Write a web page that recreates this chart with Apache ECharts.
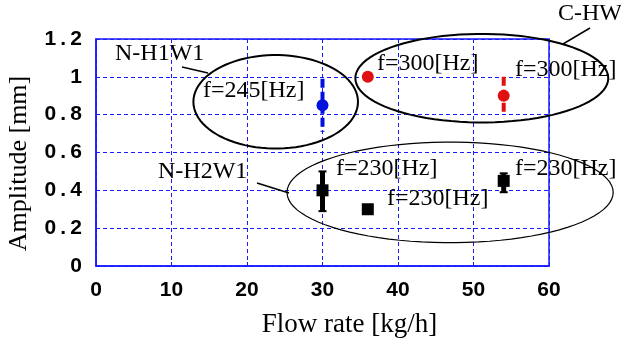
<!DOCTYPE html>
<html>
<head>
<meta charset="utf-8">
<script src="https://cdn.jsdelivr.net/npm/echarts@6/dist/echarts.min.js"></script>
<style>
  html, body { margin: 0; padding: 0; background: #fff; }
  #chart { width: 621px; height: 342px; }
</style>
</head>
<body>
<div id="chart"></div>
<script>
// N-H1W1 (blue)
const h1w1Points = [[30, 0.85]];
const h1w1Err = [[30, 0.71, 0.99]];
// C-HW (red)
const chwPoints = [[36, 1.0], [54, 0.90]];
const chwErr = [[54, 0.80, 1.0]];
// N-H2W1 (black)
const h2w1Points = [[30, 0.40], [36, 0.30], [54, 0.45]];
const h2w1Err = [[30, 0.29, 0.50], [54, 0.39, 0.49]];

// group ellipses: [centerX, centerY, radiusX, radiusY] in data units
const groupEllipses = [
  [23.8, 0.868, 10.9, 0.247],
  [51.1, 0.993, 16.75, 0.234],
  [46.9, 0.389, 21.6, 0.266]
];

const serif = 'Liberation Serif, Times New Roman, serif';
const sans = 'Liberation Sans, Arial, sans-serif';
const gridBlue = '#1a1aff';

const chart = echarts.init(document.getElementById('chart'));

// error bar renderer
function errBar(color, dashed, caps) {
  return function (params, api) {
    const top = api.coord([api.value(0), api.value(2)]);
    const bot = api.coord([api.value(0), api.value(1)]);
    const kids = [{
      type: 'line',
      shape: { x1: top[0], y1: top[1], x2: bot[0], y2: bot[1] },
      style: { stroke: color, lineWidth: dashed ? 4 : 5, lineDash: dashed ? [9, 4] : null }
    }];
    if (caps) {
      [top, bot].forEach((p) => {
        kids.push({
          type: 'line',
          shape: { x1: p[0] - 4, y1: p[1], x2: p[0] + 4, y2: p[1] },
          style: { stroke: color, lineWidth: 2 }
        });
      });
    }
    return { type: 'group', children: kids };
  };
}

const ellipseWidths = [2, 2, 1.2];

const option = {
  backgroundColor: '#fff',
  animation: false,
  grid: {
    left: 96, right: 72, top: 39, bottom: 76,
    outerBoundsMode: 'none', containLabel: false,
    show: true, borderColor: gridBlue, borderWidth: 1.5
  },
  xAxis: {
    type: 'value', min: 0, max: 60, interval: 10,
    name: 'Flow rate [kg/h]', nameLocation: 'middle', nameGap: 45,
    nameTextStyle: { fontFamily: serif, fontSize: 27, color: '#000', padding: [0, 0, 0, 54] },
    axisLine: { show: true, lineStyle: { color: gridBlue, width: 1.5 } },
    axisTick: { show: true, inside: true, length: 4, lineStyle: { color: gridBlue } },
    axisLabel: { fontFamily: sans, fontWeight: 'bold', fontSize: 21, color: '#000', margin: 14 },
    splitLine: { show: true, lineStyle: { color: gridBlue, type: [4, 3], width: 1 } }
  },
  yAxis: {
    type: 'value', min: 0, max: 1.2, interval: 0.2,
    name: 'Amplitude [mm]', nameLocation: 'middle', nameGap: 64,
    nameTextStyle: { fontFamily: serif, fontSize: 26, color: '#000', padding: [0, 22, 0, 0] },
    axisLine: { show: true, lineStyle: { color: gridBlue, width: 1.5 } },
    axisTick: { show: true, inside: true, length: 4, lineStyle: { color: gridBlue } },
    axisLabel: {
      fontFamily: sans, fontWeight: 'bold', fontSize: 21, color: '#000', margin: 14,
      formatter: (v) => String(Math.round(v * 10) / 10).replace('.', '\u2009.\u2009')
    },
    splitLine: { show: true, lineStyle: { color: gridBlue, type: [4, 3], width: 1 } }
  },
  series: [
    {
      type: 'custom', name: 'ellipses', data: groupEllipses, clip: false, z: 3,
      renderItem: function (params, api) {
        const c = api.coord([api.value(0), api.value(1)]);
        const s = api.size([api.value(2), api.value(3)]);
        const pts = [];
        for (let i = 0; i < 90; i++) {
          const a = (i / 90) * Math.PI * 2;
          pts.push([c[0] + s[0] * Math.cos(a), c[1] + s[1] * Math.sin(a)]);
        }
        return {
          type: 'polygon',
          shape: { points: pts },
          style: { fill: 'none', stroke: '#000', lineWidth: ellipseWidths[params.dataIndex] }
        };
      }
    },
    { type: 'custom', name: 'h1w1Err', data: h1w1Err, renderItem: errBar('#0010dd', true, false), z: 4 },
    { type: 'custom', name: 'chwErr', data: chwErr, renderItem: errBar('#e01010', true, false), z: 4 },
    { type: 'custom', name: 'h2w1Err', data: h2w1Err, renderItem: errBar('#000', false, true), z: 4 },
    {
      type: 'scatter', name: 'N-H1W1', data: h1w1Points, symbol: 'circle', symbolSize: 12,
      itemStyle: { color: '#0010dd', opacity: 1 }, z: 5
    },
    {
      type: 'scatter', name: 'C-HW', data: chwPoints, symbol: 'circle', symbolSize: 12,
      itemStyle: { color: '#e01010', opacity: 1 }, z: 5
    },
    {
      type: 'scatter', name: 'N-H2W1', data: h2w1Points, symbol: 'rect', symbolSize: 12,
      itemStyle: { color: '#000', opacity: 1 }, z: 5
    }
  ],
  graphic: [
    { type: 'text', left: 115, top: 42, style: { text: 'N-H1W1', font: '24px ' + serif, fill: '#000' }, z: 10 },
    { type: 'text', left: 203, top: 79, style: { text: 'f=245[Hz]', font: '24px ' + serif, fill: '#000' }, z: 10 },
    { type: 'text', left: 558, top: 2, style: { text: 'C-HW', font: '24px ' + serif, fill: '#000' }, z: 10 },
    { type: 'text', left: 377, top: 52, style: { text: 'f=300[Hz]', font: '24px ' + serif, fill: '#000' }, z: 10 },
    { type: 'text', left: 515, top: 58, style: { text: 'f=300[Hz]', font: '24px ' + serif, fill: '#000' }, z: 10 },
    { type: 'text', left: 158, top: 160, style: { text: 'N-H2W1', font: '24px ' + serif, fill: '#000' }, z: 10 },
    { type: 'text', left: 336, top: 157, style: { text: 'f=230[Hz]', font: '24px ' + serif, fill: '#000' }, z: 10 },
    { type: 'text', left: 387, top: 187, style: { text: 'f=230[Hz]', font: '24px ' + serif, fill: '#000' }, z: 10 },
    { type: 'text', left: 515, top: 157, style: { text: 'f=230[Hz]', font: '24px ' + serif, fill: '#000' }, z: 10 },
    { type: 'line', shape: { x1: 182, y1: 67, x2: 208, y2: 73 }, style: { stroke: '#000', lineWidth: 1.5 }, z: 10 },
    { type: 'line', shape: { x1: 257, y1: 183, x2: 289, y2: 193 }, style: { stroke: '#000', lineWidth: 1.5 }, z: 10 },
    { type: 'line', shape: { x1: 590, y1: 28, x2: 563, y2: 44 }, style: { stroke: '#000', lineWidth: 1.5 }, z: 10 }
  ]
};

chart.setOption(option);
</script>
</body>
</html>
